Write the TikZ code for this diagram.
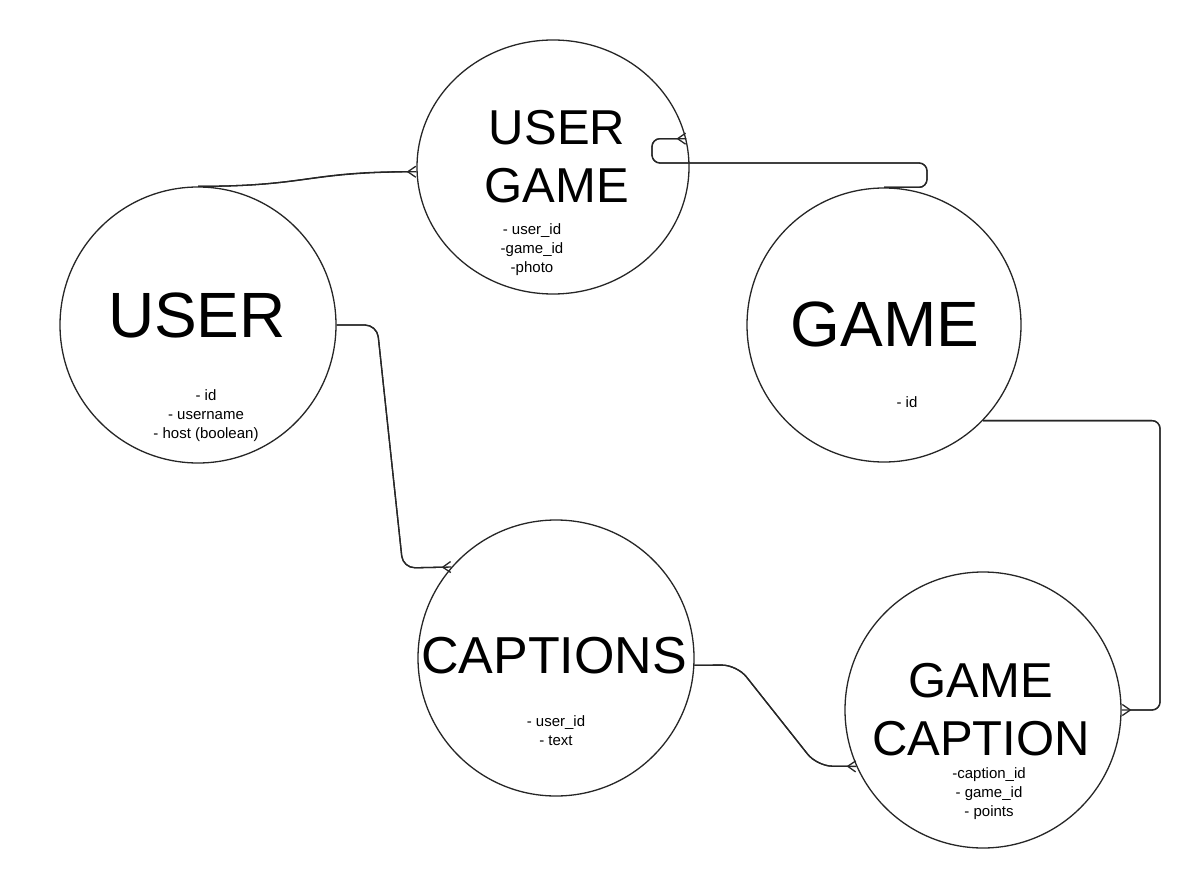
\documentclass[tikz,border=0pt]{standalone}
\usepackage{fontspec}
\setmainfont{Liberation Sans}
\usetikzlibrary{arrows.meta,shapes.geometric}

\begin{document}
\begin{tikzpicture}[x=1pt,y=-1pt,
    entity/.style={draw=black!85, line width=1.3pt, circle, minimum size=276pt, inner sep=0pt},
    big/.style={inner sep=0pt, align=center, font=\fontsize{64}{64}\selectfont},
    mid/.style={inner sep=0pt, align=center, font=\fontsize{49}{58}\selectfont},
    attr/.style={inner sep=0pt, align=center, font=\fontsize{15}{19}\selectfont},
    rel/.style={draw=black!85, line width=1.3pt, -{Straight Barb[reversed,length=8pt,width=11pt]},
      postaction={draw, arrows=-}}]
  \useasboundingbox (0,0) rectangle (1198,874);

  % entities
  \node[entity] (user) at (198,325) {};
  \node[entity, ellipse, minimum width=272pt, minimum height=254pt] (ug) at (553,167) {};
  \node[entity, minimum size=274pt] (game) at (884,325) {};
  \node[entity] (caps) at (556,658) {};
  \node[entity] (gc) at (983,710) {};

  % titles
  \node[big] (userTitle) at (197,315) {USER};
  \node[mid] (ugTitle) at (557,157) {USER\\GAME};
  \node[big] (gameTitle) at (885,324) {GAME};
  \node[big, font=\fontsize{52}{52}\selectfont] (capsTitle) at (554,656) {CAPTIONS};
  \node[mid] (gcTitle) at (981,710) {GAME\\CAPTION};

  % attributes
  \node[attr] (userAttrs) at (206,416) {- id\\- username\\- host (boolean)};
  \node[attr] (ugAttrs) at (532,250) {- user\_id\\-game\_id\\-photo};
  \node[attr] (gameAttrs) at (907,402) {- id};
  \node[attr] (capsAttrs) at (556,731) {- user\_id\\- text};
  \node[attr] (gcAttrs) at (989,794) {-caption\_id\\- game\_id\\- points};

  % relations
  \draw[rel] (user.north) .. controls +(110,0) and +(-110,0) .. (ug.182);
  \draw[rel, rounded corners=8pt] (game.north) -| (927,163) -- (652,163) |- (ug.12);
  \draw[rel, rounded corners=12pt] (user.east) -- (377,325) -- (403,568) -- (caps.139);
  \draw[rel, rounded corners=15pt] (caps.-3) -- (737,665) -- (817,766) -- (gc.204);
  \draw[rel, rounded corners=8pt] (game.-44) -| (1160,710) -- (gc.east);
\end{tikzpicture}
\end{document}
